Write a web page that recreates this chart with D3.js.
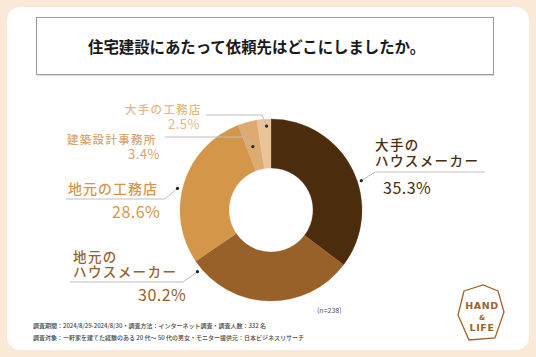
<!DOCTYPE html>
<html><head><meta charset="utf-8">
<script src="https://cdn.jsdelivr.net/npm/d3@7"></script>
<style>
html,body{margin:0;padding:0;background:#fbe9d8;}
svg{display:block;font-family:"Noto Sans CJK JP","Noto Sans",sans-serif;}
</style></head>
<body>
<svg id="c" width="536" height="357"></svg>
<script>
const categories = ["大手のハウスメーカー","地元のハウスメーカー","地元の工務店","建築設計事務所","大手の工務店"];
const values = [35.3, 30.2, 28.6, 3.4, 2.5];
const colors = ["#4b2d0e","#98612a","#d4974a","#ddaa72","#e8c497"];
const labelColors = ["#4b2d0e","#98612a","#d4974a","#d9a46c","#e4b784"];
const labelLines = [["大手の","ハウスメーカー"],["地元の","ハウスメーカー"],["地元の工務店"],["建築設計事務所"],["大手の工務店"]];
const title = "住宅建設にあたって依頼先はどこにしましたか。";
const footer = ["調査期間：2024/8/29-2024/8/30・調査方法：インターネット調査・調査人数：332 名",
                "調査対象：一軒家を建てた経験のある 20 代～ 50 代の男女・モニター提供元：日本ビジネスリサーチ"];
const nText = "(n=238)";

// layout
const cx = 271, cy = 210, R = 91, r = 42;
const layout = [
  {dotA:72, dotR:95, elbow:[375,172], end:[485,172], lx:375, ly:[150,166], fs:13.5, ls:1.4, px:383, py:194, pfs:16},
  {dotA:230, dotR:96, elbow:[183,282], end:[70,282], lx:73, ly:[262,277], fs:13.5, ls:1.4, px:138, py:301, pfs:16},
  {dotA:283, dotR:96, elbow:[165,199], end:[66,199], lx:68, ly:[194], fs:14, ls:1, px:112, py:218, pfs:16},
  {dotA:344, dotR:66, elbow:[245,137], end:[165,137], lx:67, ly:[144], fs:11.5, ls:1.3, px:128, py:159, pfs:13},
  {dotA:357, dotR:84, elbow:[262,115], end:[206,115], lx:125, ly:[114], fs:11.5, ls:1.3, px:168, py:129, pfs:13}
];

const svg = d3.select("#c");
svg.append("rect").attr("x",7).attr("y",7).attr("width",522).attr("height",343).attr("rx",13).attr("fill","#fff");

// title box
svg.append("rect").attr("x",36.5).attr("y",17.5).attr("width",457).attr("height",57)
  .attr("fill","#fff").attr("stroke","#9a9a9a").attr("stroke-width",1);
svg.append("line").attr("x1",37).attr("x2",494).attr("y1",75.5).attr("y2",75.5).attr("stroke","#ddd");
svg.append("text").attr("x",88).attr("y",52.5)
  .attr("font-size",15.4).attr("font-weight",700).attr("fill","#1a1a1a").text(title);

// donut
const pie = d3.pie().sort(null).value(d=>d);
const arcs = pie(values);
const arc = d3.arc().innerRadius(r).outerRadius(R);
const g = svg.append("g").attr("transform",`translate(${cx},${cy})`);
g.selectAll("path").data(arcs).join("path").attr("d",arc)
  .attr("fill",(d,i)=>colors[i]).attr("stroke",(d,i)=>colors[i]).attr("stroke-width",0.3);

// labels
const fmt = d3.format(".1f");
layout.forEach((L,i)=>{
  const a = L.dotA*Math.PI/180;
  const dx = cx + L.dotR*Math.sin(a), dy = cy - L.dotR*Math.cos(a);
  svg.append("polyline").attr("points",[[dx,dy],L.elbow,L.end].map(p=>p.join(",")).join(" "))
    .attr("fill","none").attr("stroke","#bdbdbd").attr("stroke-width",1);
  svg.append("circle").attr("cx",dx).attr("cy",dy).attr("r",1.6).attr("fill","#222");
  labelLines[i].forEach((t,k)=>{
    svg.append("text").attr("x",L.lx).attr("y",L.ly[k]).attr("font-size",L.fs).attr("font-weight",500)
      .attr("letter-spacing",L.ls).attr("fill",labelColors[i]).text(t);
  });
  svg.append("text").attr("x",L.px).attr("y",L.py).attr("font-size",L.pfs).attr("font-weight",400)
    .attr("letter-spacing",0.5).attr("fill",labelColors[i]).text(fmt(values[i])+"%");
});

svg.append("text").attr("x",317).attr("y",313).attr("font-size",7).attr("fill","#555").text(nText);
footer.forEach((t,i)=>{
  svg.append("text").attr("x",33).attr("y",328+i*12).attr("font-size",6).attr("font-weight",500).attr("fill","#444").text(t);
});

// logo
const logo = svg.append("g");
logo.append("polygon").attr("points","464,291 483,285 498,291 504,312 495,338 469,340 458,315")
  .attr("fill","none").attr("stroke","#a0622a").attr("stroke-width",1.3);
[["HAND",309,9.5,0.6],["&",320,7,0],["LIFE",331,9.5,0.6]].forEach(([t,y,s,ls])=>{
  logo.append("text").attr("x",482).attr("y",y).attr("text-anchor","middle").attr("font-size",s)
    .attr("letter-spacing",ls).attr("font-weight",700).attr("font-family","DejaVu Sans, sans-serif")
    .attr("fill","#a0622a").text(t);
});
</script>
</body></html>
